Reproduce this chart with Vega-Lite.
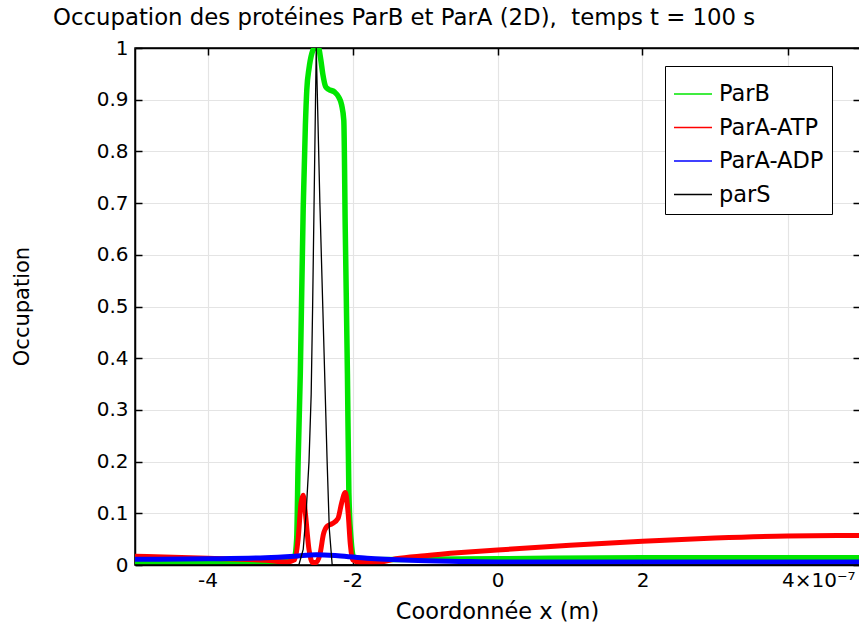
{
  "$schema": "https://vega.github.io/schema/vega-lite/v6.json",
  "width": 725,
  "height": 517,
  "autosize": {"type": "none"},
  "padding": {"left": 135, "top": 48, "right": 0, "bottom": 63},
  "background": "white",
  "config": {
    "font": "DejaVu Sans",
    "view": {"stroke": "black", "strokeWidth": 1.5},
    "axis": {
      "domainColor": "black", "domainWidth": 1.5,
      "tickColor": "black", "tickWidth": 1.5,
      "labelColor": "black", "titleColor": "black",
      "labelFont": "DejaVu Sans", "titleFont": "DejaVu Sans",
      "labelFontSize": 20, "titleFontSize": 21, "titleFontWeight": "normal",
      "gridColor": "#e4e4e4", "gridWidth": 1.2
    }
  },
  "title": {
    "text": "Occupation des protéines ParB et ParA (2D),\u00a0 temps t = 100 s",
    "font": "DejaVu Sans", "fontSize": 22.8, "fontWeight": "normal", "color": "black",
    "anchor": "start", "frame": "group", "dx": -82, "offset": 8
  },
  "data": {"values": [
    {"s": "ParB", "x": -5, "y": 0.006}, {"s": "ParB", "x": -4, "y": 0.006}, {"s": "ParB", "x": -3, "y": 0.007},
    {"s": "ParB", "x": -2.85, "y": 0.009}, {"s": "ParB", "x": -2.8, "y": 0.015}, {"s": "ParB", "x": -2.77, "y": 0.05},
    {"s": "ParB", "x": -2.75, "y": 0.2}, {"s": "ParB", "x": -2.72, "y": 0.37}, {"s": "ParB", "x": -2.68, "y": 0.69},
    {"s": "ParB", "x": -2.65, "y": 0.85}, {"s": "ParB", "x": -2.63, "y": 0.92}, {"s": "ParB", "x": -2.6, "y": 0.96},
    {"s": "ParB", "x": -2.56, "y": 0.99}, {"s": "ParB", "x": -2.52, "y": 1.0}, {"s": "ParB", "x": -2.47, "y": 1.0},
    {"s": "ParB", "x": -2.44, "y": 0.98}, {"s": "ParB", "x": -2.41, "y": 0.95}, {"s": "ParB", "x": -2.37, "y": 0.925},
    {"s": "ParB", "x": -2.33, "y": 0.92}, {"s": "ParB", "x": -2.25, "y": 0.915}, {"s": "ParB", "x": -2.19, "y": 0.905},
    {"s": "ParB", "x": -2.15, "y": 0.89}, {"s": "ParB", "x": -2.12, "y": 0.86}, {"s": "ParB", "x": -2.1, "y": 0.65},
    {"s": "ParB", "x": -2.07, "y": 0.37}, {"s": "ParB", "x": -2.05, "y": 0.14}, {"s": "ParB", "x": -2.02, "y": 0.05},
    {"s": "ParB", "x": -1.98, "y": 0.015}, {"s": "ParB", "x": -1.9, "y": 0.01}, {"s": "ParB", "x": -1, "y": 0.011},
    {"s": "ParB", "x": 0, "y": 0.012}, {"s": "ParB", "x": 2, "y": 0.014}, {"s": "ParB", "x": 5, "y": 0.014},

    {"s": "ParA-ATP", "x": -5, "y": 0.017}, {"s": "ParA-ATP", "x": -4, "y": 0.013}, {"s": "ParA-ATP", "x": -3.2, "y": 0.009},
    {"s": "ParA-ATP", "x": -2.9, "y": 0.006}, {"s": "ParA-ATP", "x": -2.8, "y": 0.01}, {"s": "ParA-ATP", "x": -2.75, "y": 0.05},
    {"s": "ParA-ATP", "x": -2.71, "y": 0.12}, {"s": "ParA-ATP", "x": -2.68, "y": 0.135}, {"s": "ParA-ATP", "x": -2.65, "y": 0.1},
    {"s": "ParA-ATP", "x": -2.6, "y": 0.03}, {"s": "ParA-ATP", "x": -2.55, "y": 0.005}, {"s": "ParA-ATP", "x": -2.5, "y": 0.005},
    {"s": "ParA-ATP", "x": -2.45, "y": 0.02}, {"s": "ParA-ATP", "x": -2.4, "y": 0.06}, {"s": "ParA-ATP", "x": -2.35, "y": 0.075},
    {"s": "ParA-ATP", "x": -2.28, "y": 0.08}, {"s": "ParA-ATP", "x": -2.2, "y": 0.09}, {"s": "ParA-ATP", "x": -2.15, "y": 0.12},
    {"s": "ParA-ATP", "x": -2.1, "y": 0.14}, {"s": "ParA-ATP", "x": -2.06, "y": 0.1}, {"s": "ParA-ATP", "x": -2.03, "y": 0.04},
    {"s": "ParA-ATP", "x": -2.0, "y": 0.01}, {"s": "ParA-ATP", "x": -1.9, "y": 0.005}, {"s": "ParA-ATP", "x": -1.6, "y": 0.006},
    {"s": "ParA-ATP", "x": -1.4, "y": 0.012}, {"s": "ParA-ATP", "x": -1, "y": 0.018}, {"s": "ParA-ATP", "x": -0.5, "y": 0.024},
    {"s": "ParA-ATP", "x": 0, "y": 0.029}, {"s": "ParA-ATP", "x": 1, "y": 0.038}, {"s": "ParA-ATP", "x": 2, "y": 0.046},
    {"s": "ParA-ATP", "x": 3, "y": 0.052}, {"s": "ParA-ATP", "x": 4, "y": 0.056}, {"s": "ParA-ATP", "x": 5, "y": 0.057},

    {"s": "ParA-ADP", "x": -5, "y": 0.011}, {"s": "ParA-ADP", "x": -4, "y": 0.012}, {"s": "ParA-ADP", "x": -3.2, "y": 0.014},
    {"s": "ParA-ADP", "x": -2.8, "y": 0.017}, {"s": "ParA-ADP", "x": -2.5, "y": 0.02}, {"s": "ParA-ADP", "x": -2.2, "y": 0.018},
    {"s": "ParA-ADP", "x": -1.8, "y": 0.013}, {"s": "ParA-ADP", "x": -1.2, "y": 0.009}, {"s": "ParA-ADP", "x": -0.5, "y": 0.007},
    {"s": "ParA-ADP", "x": 0, "y": 0.006}, {"s": "ParA-ADP", "x": 2, "y": 0.006}, {"s": "ParA-ADP", "x": 5, "y": 0.006},

    {"s": "parS", "x": -5, "y": 0}, {"s": "parS", "x": -2.74, "y": 0}, {"s": "parS", "x": -2.68, "y": 0.03},
    {"s": "parS", "x": -2.64, "y": 0.1}, {"s": "parS", "x": -2.6, "y": 0.2}, {"s": "parS", "x": -2.57, "y": 0.33},
    {"s": "parS", "x": -2.55, "y": 0.5}, {"s": "parS", "x": -2.53, "y": 0.7}, {"s": "parS", "x": -2.51, "y": 0.9},
    {"s": "parS", "x": -2.5, "y": 1.0}, {"s": "parS", "x": -2.48, "y": 0.88}, {"s": "parS", "x": -2.45, "y": 0.7},
    {"s": "parS", "x": -2.41, "y": 0.5}, {"s": "parS", "x": -2.38, "y": 0.35}, {"s": "parS", "x": -2.35, "y": 0.2},
    {"s": "parS", "x": -2.32, "y": 0.07}, {"s": "parS", "x": -2.28, "y": 0}, {"s": "parS", "x": 5, "y": 0}
  ]},
  "resolve": {"axis": {"x": "independent", "y": "independent"}},
  "layer": [
    {
      "transform": [{"filter": "datum.s === 'ParB'"}],
      "mark": {"type": "line", "strokeWidth": 5.5, "interpolate": "monotone", "clip": true},
      "encoding": {
        "x": {"field": "x", "type": "quantitative", "scale": {"domain": [-5, 5], "nice": false},
          "axis": {"orient": "bottom", "title": "Coordonnée x (m)", "values": [-4, -2, 0, 2, 4],
            "tickSize": -7, "labelPadding": 12, "labelFlush": false, "titleFontSize": 22.5,
            "labelExpr": "datum.value == 4 ? '4×10⁻⁷' : toString(datum.value)",
            "labelAlign": {"condition": {"test": "datum.value == 4", "value": "left"}, "value": "center"},
            "labelOffset": {"condition": {"test": "datum.value == 4", "value": -6}, "value": 0},
            "titleX": 362, "titleY": 46, "titleBaseline": "middle", "titleAnchor": null}},
        "y": {"field": "y", "type": "quantitative", "scale": {"domain": [0, 1], "nice": false},
          "axis": {"orient": "left", "title": "Occupation", "values": [0, 0.1, 0.2, 0.3, 0.4, 0.5, 0.6, 0.7, 0.8, 0.9, 1],
            "tickSize": -7, "labelPadding": 14, "format": "~g",
            "titleX": -113, "titleY": 258, "titleBaseline": "middle", "titleAngle": -90}},
        "color": {"field": "s", "type": "nominal",
          "scale": {"domain": ["ParB", "ParA-ATP", "ParA-ADP", "parS"], "range": ["#00e600", "#ff0000", "#0000ff", "#000000"]},
          "legend": {"title": null, "orient": "none", "legendX": 530, "legendY": 18,
            "symbolType": "stroke", "symbolSize": 1444, "symbolStrokeWidth": 1.5,
            "labelFontSize": 22.5, "labelFont": "DejaVu Sans", "labelColor": "black", "labelOffset": 6,
            "rowPadding": 1.5, "padding": 8, "strokeColor": "black", "fillColor": "white", "cornerRadius": 0}}
      }
    },
    {
      "transform": [{"filter": "datum.s === 'ParA-ATP'"}],
      "mark": {"type": "line", "strokeWidth": 5, "interpolate": "monotone", "clip": true},
      "encoding": {
        "x": {"field": "x", "type": "quantitative", "axis": null},
        "y": {"field": "y", "type": "quantitative", "axis": null},
        "color": {"field": "s", "type": "nominal"}
      }
    },
    {
      "transform": [{"filter": "datum.s === 'ParA-ADP'"}],
      "mark": {"type": "line", "strokeWidth": 5, "interpolate": "monotone", "clip": true},
      "encoding": {
        "x": {"field": "x", "type": "quantitative", "axis": null},
        "y": {"field": "y", "type": "quantitative", "axis": null},
        "color": {"field": "s", "type": "nominal"}
      }
    },
    {
      "transform": [{"filter": "datum.s === 'parS'"}],
      "mark": {"type": "line", "strokeWidth": 1.3, "clip": true},
      "encoding": {
        "x": {"field": "x", "type": "quantitative",
          "axis": {"orient": "top", "title": null, "labels": false, "grid": false, "values": [-4, -2, 0, 2, 4], "tickSize": -7}},
        "y": {"field": "y", "type": "quantitative",
          "axis": {"orient": "right", "title": null, "labels": false, "grid": false, "values": [0, 0.1, 0.2, 0.3, 0.4, 0.5, 0.6, 0.7, 0.8, 0.9, 1], "tickSize": -7}},
        "color": {"field": "s", "type": "nominal"}
      }
    }
  ]
}
